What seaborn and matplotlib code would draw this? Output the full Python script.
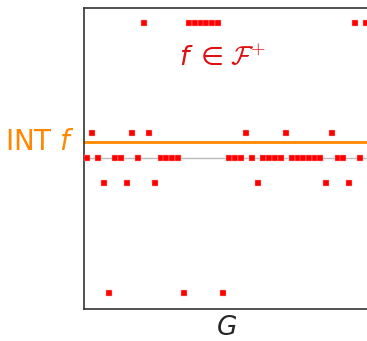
import numpy as np
import pandas as pd
import seaborn as sns
import matplotlib.pyplot as plt

# value of f on each of the 50 points of G
top = 5.4
idx = np.arange(50)
top_pts = [10, 18, 19, 20, 21, 22, 23, 47, 49]
up_pts = [1, 8, 11, 28, 35, 43]
down_pts = [3, 7, 12, 30, 42, 46]
bottom_pts = [4, 17, 24]

vals = np.zeros(50)
vals[top_pts] = top
vals[up_pts] = 1.0
vals[down_pts] = -1.0
vals[bottom_pts] = -top
int_f = vals.mean()

df = pd.DataFrame({'g': idx, 'f': vals})

sns.set_style('white')
plt.rcParams['mathtext.fontset'] = 'dejavusans'

fig = plt.figure(figsize=(3.67, 3.41), dpi=100)
ax = fig.add_axes([84 / 367, 32 / 341, 284.7 / 367, 301.5 / 341])

ax.axhline(0, color='#bbbbbb', lw=1, zorder=1)
ax.axhline(int_f, color='#ff8800', lw=2, zorder=1)
sns.scatterplot(data=df, x='g', y='f', marker='s', s=20, color='#ff0000',
                edgecolor='#ffb0b0', linewidth=0.3, ax=ax, zorder=3)

ax.set_xlim(-0.47, 49.47)
ax.set_ylim(-6.02, 6.02)
ax.set_xticks([])
ax.set_yticks([])
ax.set_ylabel('')
ax.set_xlabel('$G$', fontsize=19, labelpad=4)
for sp in ax.spines.values():
    sp.set_color('#333333')
    sp.set_linewidth(1.2)

ax.text(-0.03, int_f, 'INT $f$', transform=ax.get_yaxis_transform(),
        ha='right', va='center', fontsize=20, color='#ff8800')
# f in F+ : sans f, calligraphic F
ax.text(24.0, 3.72, r'$f\;\in$', ha='right', va='baseline',
        fontsize=19, color='#dd1111')
ax.text(25.1, 3.72, r'$\mathcal{F}^{+}$', ha='left', va='baseline',
        fontsize=19, color='#dd1111', math_fontfamily='cm')

fig.savefig('out.png', dpi=100)
